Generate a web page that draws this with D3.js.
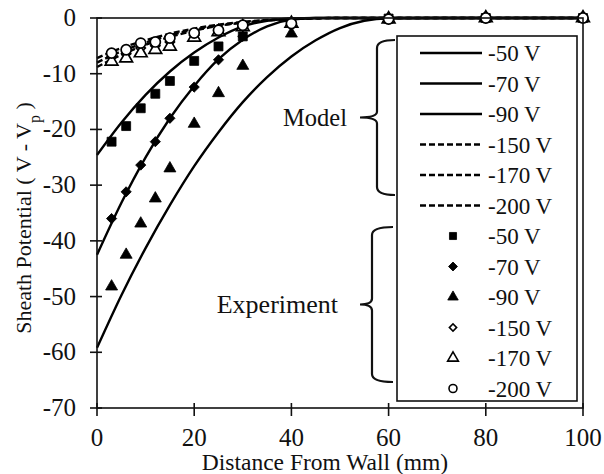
<!DOCTYPE html>
<html>
<head>
<meta charset="utf-8">
<script src="https://cdn.jsdelivr.net/npm/d3@7"></script>
<style>
    body { margin: 0; background: #fff; }
    svg { display: block; }
    text { font-family: "Liberation Serif", "Times New Roman", serif; fill: #111; }
</style>
</head>
<body>
<div id="chart"></div>
<script>
// model curves
var distModel = [0, 5, 10, 15, 20, 25, 30, 35, 40, 45, 50, 55, 60, 70, 80, 90, 100];
var model50 = [-24.6, -18.8, -13.8, -9.6, -6.2, -3.5, -1.5, -0.5, -0.1, 0, 0, 0, 0, 0, 0, 0, 0];
var model70 = [-42.5, -33.2, -25.0, -18.0, -12.2, -7.4, -3.9, -1.5, -0.3, 0, 0, 0, 0, 0, 0, 0, 0];
var model90 = [-59.2, -49.8, -41.3, -33.6, -26.6, -20.5, -15.1, -10.6, -6.9, -4.0, -1.8, -0.5, -0.05, 0, 0, 0, 0];
var model150 = [-7.2, -5.4, -4.0, -2.8, -1.9, -1.2, -0.7, -0.35, -0.15, -0.05, 0, 0, 0, 0, 0, 0, 0];
var model170 = [-8.0, -6.0, -4.4, -3.1, -2.1, -1.3, -0.8, -0.4, -0.15, -0.05, 0, 0, 0, 0, 0, 0, 0];
var model200 = [-8.8, -6.6, -4.8, -3.4, -2.3, -1.4, -0.85, -0.45, -0.2, -0.05, 0, 0, 0, 0, 0, 0, 0];

// experiment points
var distExp = [3, 6, 9, 12, 15, 20, 25, 30, 40, 60, 80, 100];
var exp50 = [-22.2, -19.4, -16.2, -13.6, -11.3, -7.7, -5.1, -3.3, -0.8, -0.1, 0, 0];
var exp70 = [-36.0, -31.2, -26.4, -22.2, -18.0, -12.4, -7.5, -3.3, -0.8, 0, 0, 0];
var exp90 = [-48.2, -42.5, -36.9, -32.4, -27.0, -19.0, -13.5, -8.6, -2.8, -0.2, 0, 0];
var exp150 = [-7.0, -6.4, -5.4, -5.0, -4.3, -3.1, -2.3, -1.5, -0.9, -0.2, 0, 0];
var exp170 = [-7.8, -7.2, -6.3, -5.7, -5.1, -3.5, -2.5, -1.6, -1.0, -0.2, 0, 0];
var exp200 = [-6.3, -5.7, -4.5, -4.3, -3.6, -2.7, -2.2, -1.3, -1.0, -0.2, 0, 0];

var voltLabels = ["-50 V", "-70 V", "-90 V", "-150 V", "-170 V", "-200 V"];
var xTicks = [0, 20, 40, 60, 80, 100];
var yTicks = [0, -10, -20, -30, -40, -50, -60, -70];

var width = 604, height = 474;
var svg = d3.select("#chart").append("svg")
    .attr("width", width).attr("height", height);

var x = d3.scaleLinear().domain([0, 100]).range([97, 583]);
var y = d3.scaleLinear().domain([-70, 0]).range([408, 18]);

var modelSeries = [model50, model70, model90, model150, model170, model200];
var expSeries = [exp50, exp70, exp90, exp150, exp170, exp200];

// marker styles for experiment series
var markers = [
    {type: d3.symbolSquare, size: 80, rot: 0, fill: "#000", leg: 50},
    {type: d3.symbolSquare, size: 52, rot: 45, fill: "#000", leg: 40},
    {type: d3.symbolTriangle, size: 62, rot: 0, fill: "#000", leg: 48},
    {type: d3.symbolSquare, size: 42, rot: 45, fill: "#fff", leg: 26},
    {type: d3.symbolTriangle, size: 70, rot: 0, fill: "#fff", leg: 50},
    {type: d3.symbolCircle, size: 80, rot: 0, fill: "#fff", leg: 50}
];

var line = d3.line()
    .x(function (d) { return x(d[0]); })
    .y(function (d) { return y(d[1]); })
    .curve(d3.curveMonotoneX);

// model lines
modelSeries.forEach(function (vals, i) {
    var pts = distModel.map(function (d, j) { return [d, vals[j]]; });
    svg.append("path")
        .attr("d", line(pts))
        .attr("fill", "none")
        .attr("stroke", "#000")
        .attr("stroke-width", 2.4)
        .attr("stroke-dasharray", i < 3 ? null : "6,3");
});

// experiment markers
expSeries.forEach(function (vals, i) {
    var m = markers[i];
    var sym = d3.symbol().type(m.type).size(m.size);
    svg.append("g").selectAll("path")
        .data(distExp.map(function (d, j) { return [d, vals[j]]; }))
        .enter().append("path")
        .attr("d", sym)
        .attr("transform", function (d) {
            return "translate(" + x(d[0]) + "," + y(d[1]) + ") rotate(" + m.rot + ")";
        })
        .attr("fill", m.fill)
        .attr("stroke", "#000")
        .attr("stroke-width", m.fill === "#000" ? 0.8 : 1.7);
});

// frame
svg.append("rect")
    .attr("x", x(0)).attr("y", y(0))
    .attr("width", x(100) - x(0)).attr("height", y(-70) - y(0))
    .attr("fill", "none").attr("stroke", "#111").attr("stroke-width", 1.6);

// ticks crossing the axes
var yTickG = svg.append("g");
yTicks.forEach(function (t) {
    yTickG.append("line")
        .attr("x1", x(0) - 7).attr("x2", x(0) + 5)
        .attr("y1", y(t)).attr("y2", y(t))
        .attr("stroke", "#111").attr("stroke-width", 1.6);
    yTickG.append("text")
        .attr("x", 76).attr("y", y(t) + 8)
        .attr("text-anchor", "end")
        .style("font-size", "25px")
        .text(t);
});

var xTickG = svg.append("g");
xTicks.forEach(function (t) {
    xTickG.append("line")
        .attr("x1", x(t)).attr("x2", x(t))
        .attr("y1", y(-70) - 5).attr("y2", y(-70) + 8)
        .attr("stroke", "#111").attr("stroke-width", 1.6);
    xTickG.append("text")
        .attr("x", x(t)).attr("y", 446)
        .attr("text-anchor", "middle")
        .style("font-size", "25px")
        .text(t);
});

svg.append("text")
    .attr("x", 325).attr("y", 470)
    .attr("text-anchor", "middle")
    .style("font-size", "23.5px")
    .text("Distance From Wall (mm)");

var yTitle = svg.append("text")
    .attr("transform", "translate(31," + 218 + ") rotate(-90)")
    .attr("text-anchor", "middle")
    .style("font-size", "22px");
yTitle.append("tspan").text("Sheath Potential ( V - V");
yTitle.append("tspan").attr("baseline-shift", "sub").style("font-size", "16px").text("p");
yTitle.append("tspan").text(" )");

// legend
var legX = 397, legY = 36, legW = 180, legH = 365;
svg.append("rect")
    .attr("x", legX).attr("y", legY).attr("width", legW).attr("height", legH)
    .attr("fill", "#fff").attr("stroke", "#111").attr("stroke-width", 1.6);

var rowY = function (i) { return 53 + i * 30.5; };

voltLabels.forEach(function (lab, i) {
    svg.append("line")
        .attr("x1", 420).attr("x2", 482)
        .attr("y1", rowY(i)).attr("y2", rowY(i))
        .attr("stroke", "#000").attr("stroke-width", 2.4)
        .attr("stroke-dasharray", i < 3 ? null : "6,3");
    svg.append("text")
        .attr("x", 488).attr("y", rowY(i) + 8)
        .style("font-size", "23px")
        .text(lab);
});

voltLabels.forEach(function (lab, i) {
    var m = markers[i];
    var r = rowY(i + 6);
    svg.append("path")
        .attr("d", d3.symbol().type(m.type).size(m.leg))
        .attr("transform", "translate(453," + r + ") rotate(" + m.rot + ")")
        .attr("fill", m.fill)
        .attr("stroke", "#000")
        .attr("stroke-width", m.fill === "#000" ? 0.8 : 1.6);
    svg.append("text")
        .attr("x", 488).attr("y", r + 8)
        .style("font-size", "23px")
        .text(lab);
});

// curly braces for the two groups
function brace(xr, xm, xp, y0, y1) {
    var ym = (y0 + y1) / 2;
    var p = d3.path();
    p.moveTo(xr, y0);
    p.quadraticCurveTo(xm, y0, xm, y0 + 8);
    p.lineTo(xm, ym - 6);
    p.quadraticCurveTo(xm, ym, xp, ym);
    p.quadraticCurveTo(xm, ym, xm, ym + 6);
    p.lineTo(xm, y1 - 8);
    p.quadraticCurveTo(xm, y1, xr, y1);
    svg.append("path")
        .attr("d", p.toString())
        .attr("fill", "none").attr("stroke", "#111").attr("stroke-width", 2.2);
}
brace(395, 377, 360, 40, 195);
brace(393, 372, 360, 227, 382);

svg.append("text")
    .attr("x", 347).attr("y", 126)
    .attr("text-anchor", "end")
    .style("font-size", "24.5px")
    .text("Model");

svg.append("text")
    .attr("x", 338).attr("y", 313)
    .attr("text-anchor", "end")
    .style("font-size", "26px")
    .text("Experiment");
</script>
</body>
</html>
